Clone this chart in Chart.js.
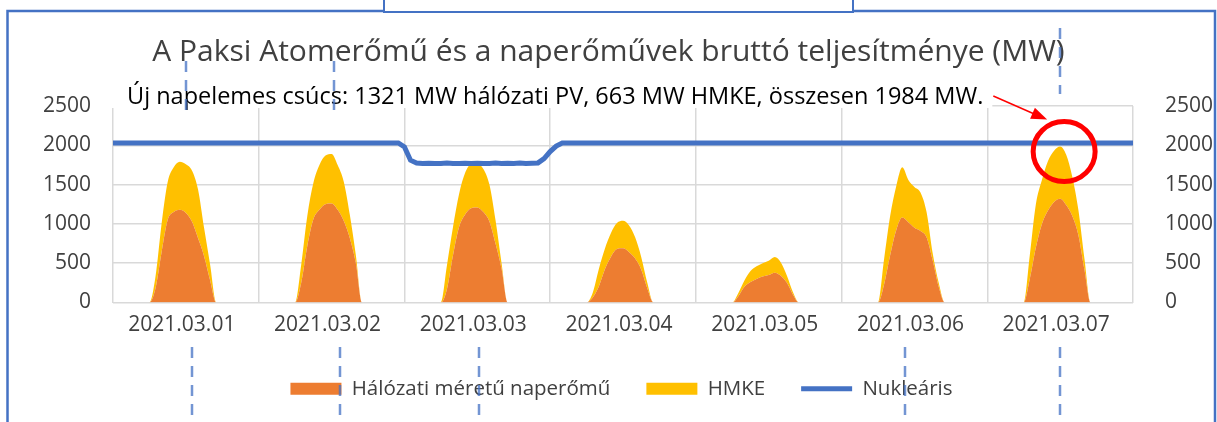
<!DOCTYPE html>
<html lang="hu">
<head>
<meta charset="UTF-8">
<title>Paksi Atomerőmű és naperőművek</title>
<script src="https://cdn.jsdelivr.net/npm/chart.js"></script>
<style>
  html, body { margin: 0; padding: 0; background: #fff; }
</style>
</head>
<body>
<canvas id="chart" width="1217" height="422"></canvas>
<script>
// napok (x tengely feliratai)
const dayLabels = ['2021.03.01', '2021.03.02', '2021.03.03', '2021.03.04', '2021.03.05', '2021.03.06', '2021.03.07'];

// óránkénti értékek, MW (0-23 óra naponta, plusz 03.08 00:00)
const halozatiPV = [
  0,0,0,0,0,0,0, 180,640,1050,1150,1180,1140,1030,820,590,280, 0,0,0,0,0,0,0,
  0,0,0,0,0,0,0, 250,720,1060,1180,1250,1260,1180,1040,820,500, 0,0,0,0,0,0,0,
  0,0,0,0,0,0,0, 170,600,960,1120,1200,1210,1150,1030,750,430, 0,0,0,0,0,0,0,
  0,0,0,0,0,0,0, 60,200,420,580,680,690,640,560,420,180, 0,0,0,0,0,0,0,
  0,0,0,0,0,0,0, 80,200,260,300,330,350,380,340,250,100, 0,0,0,0,0,0,0,
  0,0,0,0,0,0,0, 230,600,920,1080,1020,950,910,830,540,200, 0,0,0,0,0,0,0,
  0,0,0,0,0,0,0, 300,700,1000,1170,1280,1321,1240,1100,860,420, 0,0,0,0,0,0,0,
  0
];
const hmke = [
  0,0,0,0,0,0,0, 150,360,480,570,610,620,650,620,360,200, 0,0,0,0,0,0,0,
  0,0,0,0,0,0,0, 230,380,460,570,620,630,570,500,300,100, 0,0,0,0,0,0,0,
  0,0,0,0,0,0,0, 300,360,420,530,560,550,550,470,300,70, 0,0,0,0,0,0,0,
  0,0,0,0,0,0,0, 60,220,260,300,330,350,340,270,160,70, 0,0,0,0,0,0,0,
  0,0,0,0,0,0,0, 40,80,140,160,170,180,200,170,90,30, 0,0,0,0,0,0,0,
  0,0,0,0,0,0,0, 320,500,560,640,540,520,490,320,90,50, 0,0,0,0,0,0,0,
  0,0,0,0,0,0,0, 300,550,560,630,650,663,640,500,320,140, 0,0,0,0,0,0,0,
  0
];
const nuklearis = [
  2030,2030,2030,2030,2030,2030,2030,2030,2030,2030,2030,2030,2030,2030,2030,2030,2030,2030,2030,2030,2030,2030,2030,2030,
  2030,2030,2030,2030,2030,2030,2030,2030,2030,2030,2030,2030,2030,2030,2030,2030,2030,2030,2030,2030,2030,2030,2030,2030,
  1980,1810,1775,1770,1772,1768,1770,1774,1770,1769,1772,1770,1771,1768,1770,1775,1768,1772,1770,1774,1768,1773,1776,1830,
  1920,1990,2030,2030,2030,2030,2030,2030,2030,2030,2030,2030,2030,2030,2030,2030,2030,2030,2030,2030,2030,2030,2030,2030,
  2030,2030,2030,2030,2030,2030,2030,2030,2030,2030,2030,2030,2030,2030,2030,2030,2030,2030,2030,2030,2030,2030,2030,2030,
  2030,2030,2030,2030,2030,2030,2030,2030,2030,2030,2030,2030,2030,2030,2030,2030,2030,2030,2030,2030,2030,2030,2030,2030,
  2030,2030,2030,2030,2030,2030,2030,2030,2030,2030,2030,2030,2030,2030,2030,2030,2030,2030,2030,2030,2030,2030,2030,2030,
  2030
];
const hours = halozatiPV.map((v, i) => i);

const peakHour = 156; // 2021.03.07 12:00
const peakTotal = 1984;
const noteText = 'Új napelemes csúcs: 1321 MW hálózati PV, 663 MW HMKE, összesen 1984 MW.';

const FONT = '"Open Sans", sans-serif';
const gridGray = '#d9d9d9';
const textGray = '#404040';

// felirat, nyíl, kör + a képernyőkép kerete és segédvonalai
const decor = {
  id: 'decor',
  afterLayout(chart) {
    // a jelmagyarázat a rajzterület közepéhez igazodik
    chart.legend.left += 13;
    chart.legend.right += 13;
  },
  afterDraw(chart) {
    const ctx = chart.ctx;
    const area = chart.chartArea;
    const xs = chart.scales.x, ys = chart.scales.y;
    ctx.save();

    // szövegdoboz
    ctx.font = '23.5px ' + FONT;
    const tx = area.left + 14;
    const ty = area.top - 9;
    const tw = ctx.measureText(noteText).width;
    ctx.fillStyle = '#fff';
    ctx.fillRect(area.left - 3, ty - 20, tw + 26, 31);
    ctx.fillStyle = '#000';
    ctx.textBaseline = 'middle';
    ctx.fillText(noteText, tx, ty);

    // kör a csúcs körül
    const cx = xs.getPixelForValue(peakHour) + 4;
    const cy = ys.getPixelForValue(peakTotal) + 5;
    ctx.strokeStyle = '#ff0000';
    ctx.lineWidth = 5;
    ctx.beginPath();
    ctx.ellipse(cx, cy, 31, 30, 0, 0, Math.PI * 2);
    ctx.stroke();

    // nyíl
    const ax = tx + tw + 10, ay = ty - 1;
    const bx = cx - 17, by = cy - 32;
    const ang = Math.atan2(by - ay, bx - ax);
    ctx.lineWidth = 1.5;
    ctx.beginPath();
    ctx.moveTo(ax, ay);
    ctx.lineTo(bx - 14 * Math.cos(ang), by - 14 * Math.sin(ang));
    ctx.stroke();
    ctx.fillStyle = '#ff0000';
    ctx.beginPath();
    ctx.moveTo(bx, by);
    ctx.lineTo(bx - 16 * Math.cos(ang) + 6 * Math.sin(ang), by - 16 * Math.sin(ang) - 6 * Math.cos(ang));
    ctx.lineTo(bx - 16 * Math.cos(ang) - 6 * Math.sin(ang), by - 16 * Math.sin(ang) + 6 * Math.cos(ang));
    ctx.closePath();
    ctx.fill();

    // keret
    ctx.strokeStyle = '#4472c4';
    ctx.lineWidth = 2.5;
    ctx.beginPath();
    ctx.moveTo(7.5, 422);
    ctx.lineTo(7.5, 11);
    ctx.lineTo(1215, 11);
    ctx.lineTo(1215, 422);
    ctx.stroke();
    ctx.fillStyle = '#fff';
    ctx.fillRect(384, 0, 469, 12);
    ctx.lineWidth = 2;
    ctx.strokeRect(384, -3, 469, 15);

    // szaggatott segédvonalak
    ctx.strokeStyle = 'rgba(68,114,196,0.75)';
    ctx.lineWidth = 2.5;
    ctx.setLineDash([11, 8]);
    [[186, 61, 111], [334, 61, 111], [1060, 28, 94],
     [192, 347, 422], [340, 347, 422], [479, 347, 422], [905, 347, 422], [1060, 347, 422]]
      .forEach(([x, y0, y1]) => {
        ctx.beginPath();
        ctx.moveTo(x, y0);
        ctx.lineTo(x, y1);
        ctx.stroke();
      });
    ctx.restore();
  }
};

new Chart('chart', {
  type: 'line',
  data: {
    labels: hours,
    datasets: [
      {
        label: 'Hálózati méretű naperőmű',
        data: halozatiPV,
        yAxisID: 'y',
        backgroundColor: '#ed7d31',
        borderColor: '#ed7d31',
        borderWidth: 0,
        pointRadius: 0,
        pointHoverRadius: 0,
        pointBorderWidth: 0,
        pointStyle: 'rect',
        cubicInterpolationMode: 'monotone',
        fill: 'origin'
      },
      {
        label: 'HMKE',
        data: hmke,
        yAxisID: 'y',
        backgroundColor: '#ffc000',
        borderColor: '#ffc000',
        borderWidth: 0,
        pointRadius: 0,
        pointHoverRadius: 0,
        pointBorderWidth: 0,
        pointStyle: 'rect',
        cubicInterpolationMode: 'monotone',
        fill: '-1'
      },
      {
        label: 'Nukleáris',
        data: nuklearis,
        yAxisID: 'y1',
        borderColor: '#4472c4',
        backgroundColor: '#4472c4',
        borderWidth: 5,
        pointRadius: 0,
        pointHoverRadius: 0,
        pointBorderWidth: 5,
        pointStyle: 'line',
        fill: false
      }
    ]
  },
  options: {
    responsive: false,
    animation: false,
    layout: { padding: { left: 0, right: 0, top: 0, bottom: 13 } },
    scales: {
      x: {
        type: 'linear',
        min: 0,
        max: 168,
        afterFit: s => { s.height = 40; },
        border: { display: false },
        grid: {
          drawTicks: false,
          lineWidth: 1.5,
          color: c => (c.tick && c.tick.value % 24 === 0) ? gridGray : 'rgba(0,0,0,0)'
        },
        ticks: {
          stepSize: 12,
          autoSkip: false,
          maxRotation: 0,
          padding: 10,
          labelOffset: -4,
          color: textGray,
          font: { family: FONT, size: 21 },
          callback: v => (v % 24 === 12) ? dayLabels[(v - 12) / 24] : ''
        }
      },
      y: {
        stacked: true,
        min: 0,
        max: 2500,
        afterFit: s => { s.width = 113; },
        border: { display: false },
        grid: { drawTicks: false, color: gridGray, lineWidth: 1.5 },
        ticks: { stepSize: 500, padding: 22, color: textGray, font: { family: FONT, size: 21 }, callback: v => String(v) }
      },
      y1: {
        position: 'right',
        min: 0,
        max: 2500,
        afterFit: s => { s.width = 84; },
        border: { display: false },
        grid: { display: false },
        ticks: { stepSize: 500, padding: 24, color: textGray, font: { family: FONT, size: 21 }, callback: v => String(v) }
      }
    },
    plugins: {
      filler: { drawTime: 'beforeDatasetsDraw' },
      tooltip: { enabled: false },
      title: {
        display: true,
        text: 'A Paksi Atomerőmű és a naperőművek bruttó teljesítménye (MW)',
        color: textGray,
        font: { family: FONT, size: 30, weight: 'normal' },
        padding: { top: 34, bottom: 36 }
      },
      legend: {
        position: 'bottom',
        labels: {
          usePointStyle: true,
          pointStyleWidth: 51,
          boxHeight: 12,
          padding: 36,
          color: textGray,
          font: { family: FONT, size: 20.5 }
        }
      }
    }
  },
  plugins: [decor]
});
</script>
</body>
</html>
